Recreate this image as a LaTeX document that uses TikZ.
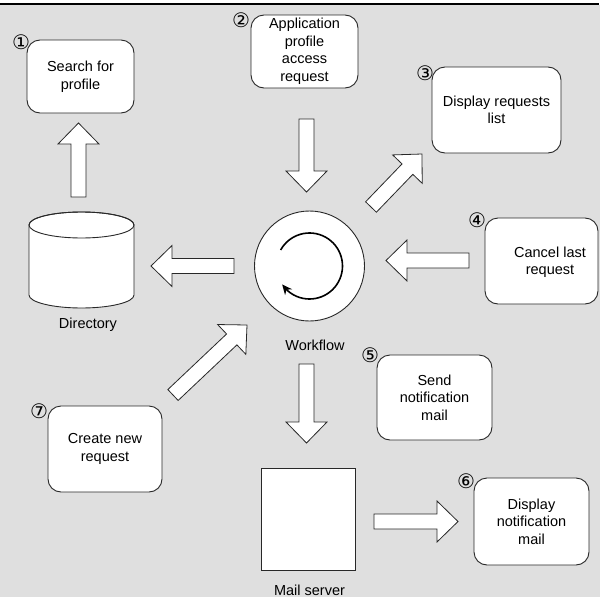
\documentclass[tikz,border=0pt]{standalone}
\usepackage{fontspec}
\setmainfont{Liberation Sans}
\newfontfamily\circfont{DejaVu Sans}
\usetikzlibrary{calc,arrows.meta,bending}
\definecolor{bggray}{RGB}{223,223,223}
\definecolor{edge}{RGB}{40,40,40}
\tikzset{
  box/.style={draw=edge, fill=white, line width=0.9pt, rounded corners=13pt,
    align=center, inner sep=0pt, outer sep=0pt,
    font=\fontsize{14.5pt}{17.5pt}\selectfont},
  txt/.style={align=center, inner sep=0pt, font=\fontsize{14.5pt}{17.5pt}\selectfont},
  num/.style={inner sep=0pt, font=\circfont\fontsize{20pt}{20pt}\selectfont},
  fat/.style={draw=edge, fill=white, line width=0.8pt, line join=miter,
    to path={
      -- ($(\tikztostart)!7.5pt!90:(\tikztotarget)$)
      -- ($(\tikztotarget)!21pt!(\tikztostart)!7.5pt!90:(\tikztotarget)$)
      -- ($(\tikztotarget)!21pt!(\tikztostart)!20.5pt!90:(\tikztotarget)$)
      -- (\tikztotarget)
      -- ($(\tikztotarget)!21pt!(\tikztostart)!20.5pt!-90:(\tikztotarget)$)
      -- ($(\tikztotarget)!21pt!(\tikztostart)!7.5pt!-90:(\tikztotarget)$)
      -- ($(\tikztostart)!7.5pt!-90:(\tikztotarget)$)
      -- cycle}}
}
\begin{document}
\begin{tikzpicture}[x=1pt,y=-1pt]
\useasboundingbox (0,0) rectangle (600,597);
% background
\fill[white] (0,0) rectangle (600,597);
\fill[bggray] (0,4.7) rectangle (600,597);
\fill[black] (0,2.7) rectangle (599,4.7);

% boxes
\node[box, minimum width=107pt, minimum height=73pt] (b1) at (80.5,76.5) {Search for\\profile};
\node[box, minimum width=107pt, minimum height=73pt] (b2) at (304.5,51.5) {Application\\profile\\access\\request};
\node[box, minimum width=129pt, minimum height=86pt] (b3) at (496.5,110) {Display requests\\list};
\node[box, minimum width=113pt, minimum height=86pt] (b4) at (541.5,261) {};
\node[txt] (t4) at (550,262) {Cancel last\\request};
\node[box, minimum width=115pt, minimum height=85pt] (b5) at (434.5,397.5) {Send\\notification\\mail};
\node[box, minimum width=115pt, minimum height=87pt] (b6) at (531.5,521.5) {Display\\notification\\mail};
\node[box, minimum width=114pt, minimum height=86pt] (b7) at (105,449) {Create new\\request};

% circled numbers
\node[num] (n1) at (21,42) {①};
\node[num] (n2) at (241,20) {②};
\node[num] (n3) at (425,73) {③};
\node[num] (n4) at (477,220) {④};
\node[num] (n5) at (370,355) {⑤};
\node[num] (n6) at (466,481) {⑥};
\node[num] (n7) at (39,411) {⑦};

% directory cylinder
\draw[draw=edge, fill=white, line width=0.9pt]
  (29,225) -- (29,295) arc[start angle=180, end angle=360, x radius=52.5pt, y radius=13pt]
  -- (134,225) arc[start angle=0, end angle=180, x radius=52.5pt, y radius=13pt] -- cycle;
\draw[draw=edge, line width=0.9pt] (81.5,225) ellipse [x radius=52.5pt, y radius=13pt];
\node[txt] (ldir) at (88,325) {Directory};

% workflow
\node[circle, draw=edge, fill=white, line width=0.9pt, minimum size=110pt, inner sep=0pt] (wf) at (309.5,266) {};
\draw[line width=1.6pt, -{Stealth[length=10pt,width=9pt]}]
  ([shift={(151:33pt)}]wf.center) arc[start angle=151, end angle=-146, radius=33pt];
\node[txt] (lwf) at (315,345) {Workflow};

% mail server
\node[draw=edge, fill=white, line width=0.9pt, minimum width=94pt, minimum height=102pt, inner sep=0pt] (mail) at (308,519) {};
\node[txt] (lmail) at (309.5,590) {Mail server};

% arrow end points
\coordinate (a1s) at (78.5,197);  \coordinate (a1e) at (78.5,123);
\coordinate (a2s) at (306.5,119); \coordinate (a2e) at (306.5,192);
\coordinate (a3s) at (371,207);   \coordinate (a3e) at (422,154);
\coordinate (a4s) at (469,260.5); \coordinate (a4e) at (386,260.5);
\coordinate (a5s) at (234,266);   \coordinate (a5e) at (151,266);
\coordinate (a6s) at (306.5,364); \coordinate (a6e) at (306.5,443);
\coordinate (a7s) at (374,521.5); \coordinate (a7e) at (458,521.5);
\coordinate (a8s) at (173,395);   \coordinate (a8e) at (247,325);

\draw[fat] (a1s) to (a1e);
\draw[fat] (a2s) to (a2e);
\draw[fat] (a3s) to (a3e);
\draw[fat] (a4s) to (a4e);
\draw[fat] (a5s) to (a5e);
\draw[fat] (a6s) to (a6e);
\draw[fat] (a7s) to (a7e);
\draw[fat] (a8s) to (a8e);
\end{tikzpicture}
\end{document}
